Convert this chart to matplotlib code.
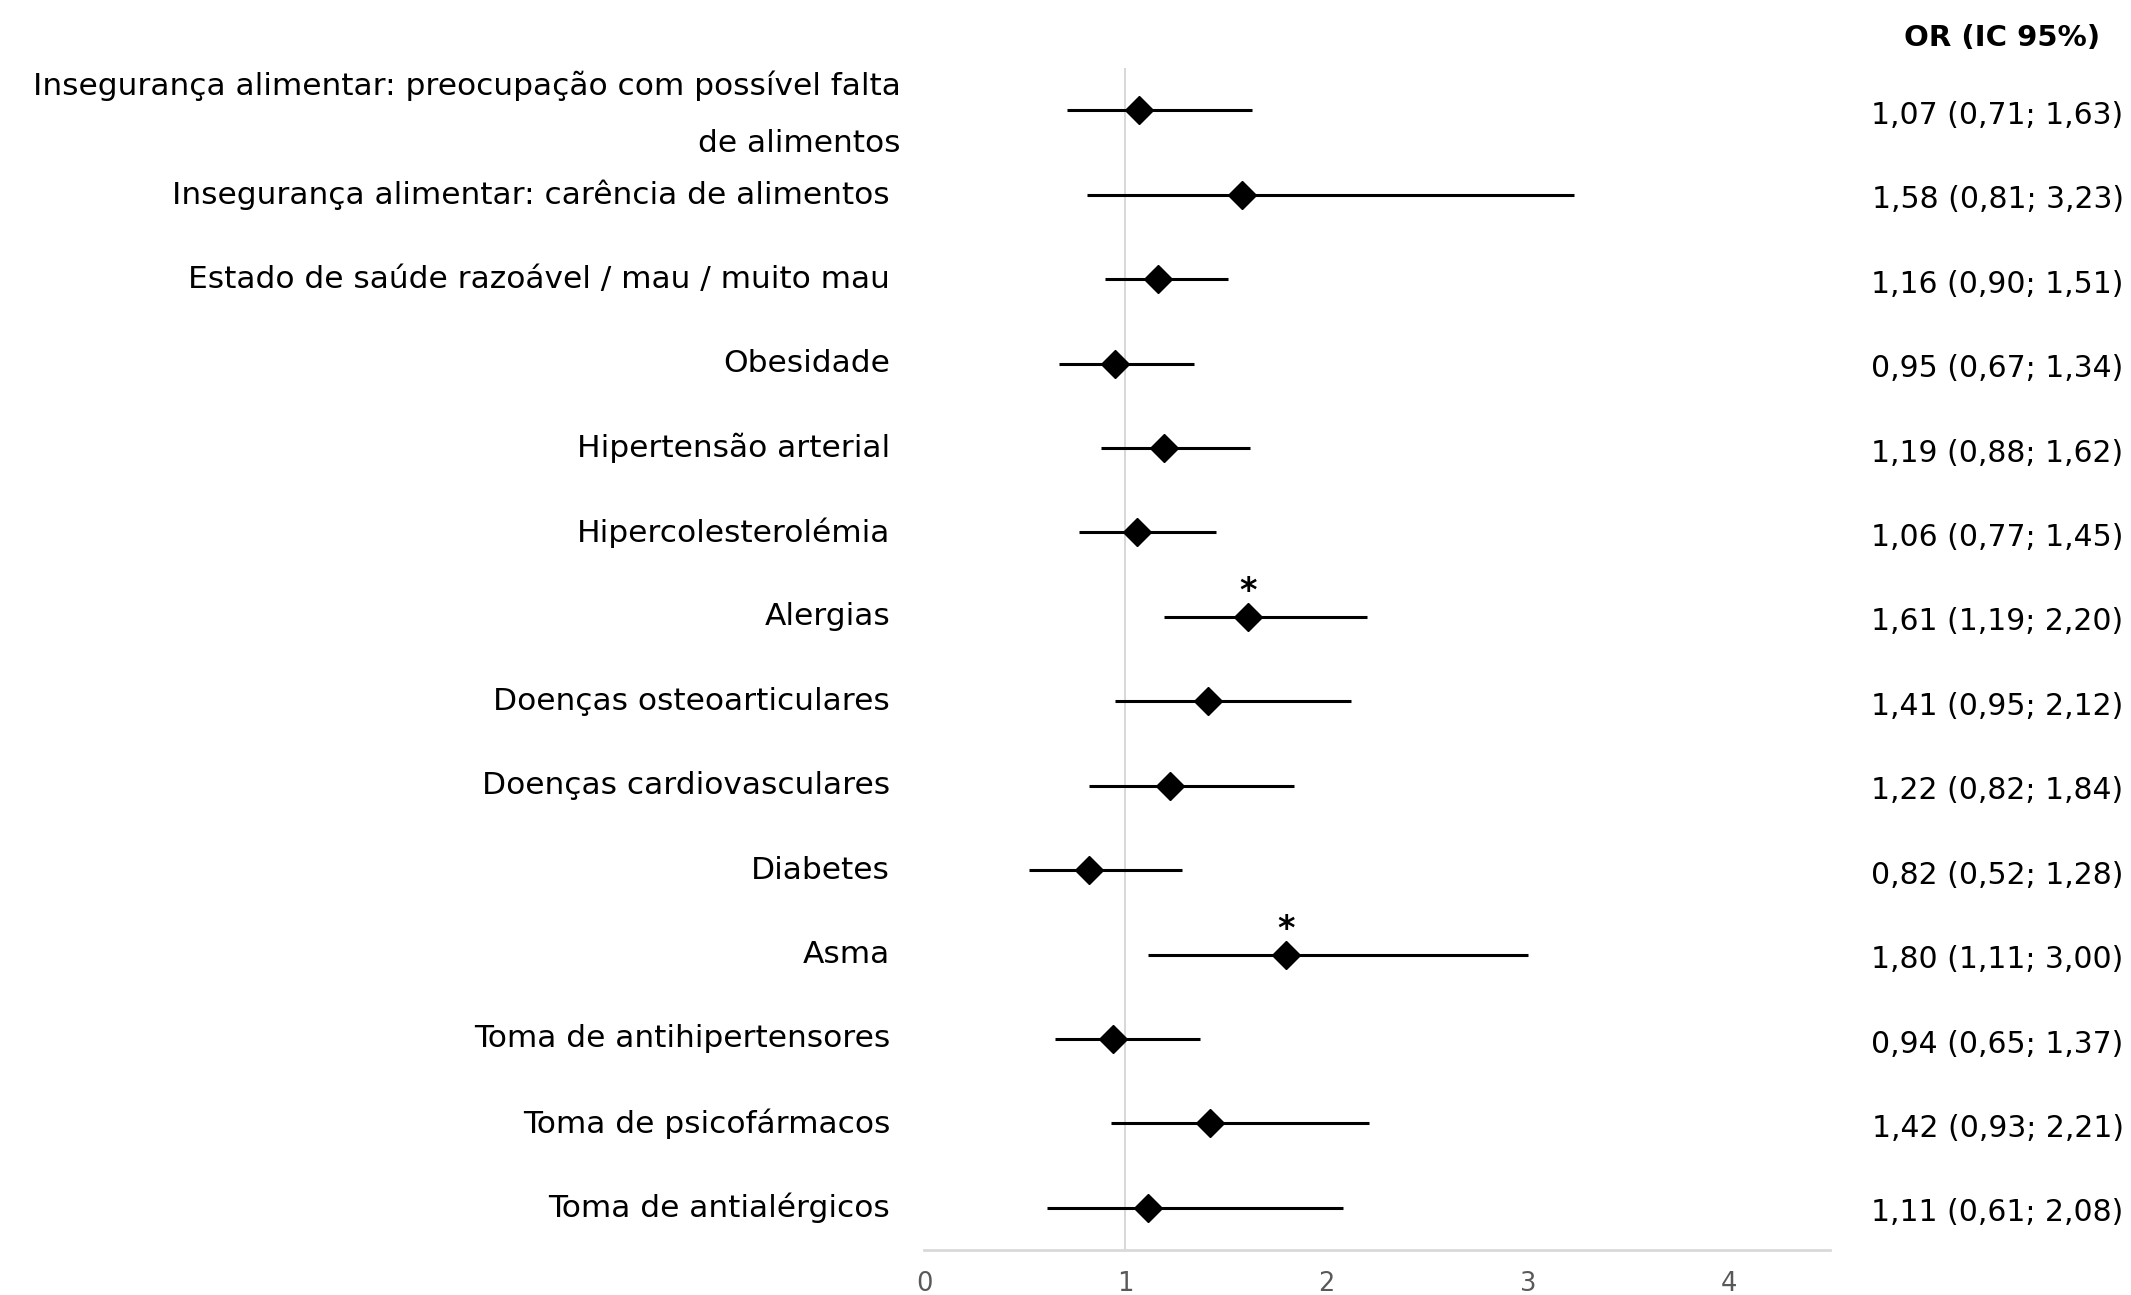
import matplotlib.pyplot as plt
import matplotlib.transforms as mtransforms

labels = [
    "Insegurança alimentar: preocupação com possível falta\nde alimentos",
    "Insegurança alimentar: carência de alimentos",
    "Estado de saúde razoável / mau / muito mau",
    "Obesidade",
    "Hipertensão arterial",
    "Hipercolesterolémia",
    "Alergias",
    "Doenças osteoarticulares",
    "Doenças cardiovasculares",
    "Diabetes",
    "Asma",
    "Toma de antihipertensores",
    "Toma de psicofármacos",
    "Toma de antialérgicos",
]
odds_ratio = [1.07, 1.58, 1.16, 0.95, 1.19, 1.06, 1.61, 1.41, 1.22, 0.82, 1.80, 0.94, 1.42, 1.11]
ci_low = [0.71, 0.81, 0.90, 0.67, 0.88, 0.77, 1.19, 0.95, 0.82, 0.52, 1.11, 0.65, 0.93, 0.61]
ci_high = [1.63, 3.23, 1.51, 1.34, 1.62, 1.45, 2.20, 2.12, 1.84, 1.28, 3.00, 1.37, 2.21, 2.08]
significant = [False, False, False, False, False, False, True, False, False, False, True, False, False, False]
x_ticks = [0, 1, 2, 3, 4]

def fmt(v):
    return f"{v:.2f}".replace(".", ",")

n = len(labels)
ypos = [n - i for i in range(n)]

fig = plt.figure(figsize=(21.31, 12.95), dpi=100)
ax = fig.add_axes([0.4336, 0.0347, 0.4252, 0.9128])
ax.set_xlim(0, 4.5)
ax.set_ylim(0.5, n + 0.5)

# reference line at OR = 1
ax.axvline(1, color="#d4d4d4", lw=1.3, zorder=1)

for y, orv, lo, hi, sig in zip(ypos, odds_ratio, ci_low, ci_high, significant):
    ax.plot([lo, hi], [y, y], color="black", lw=2.2, solid_capstyle="butt", zorder=2)
    ax.plot(orv, y, marker="D", ms=14.5, color="black", zorder=3)
    if sig:
        ax.text(orv, y + 0.3, "*", ha="center", va="center", fontsize=24,
                fontweight="bold", color="black")

for s in ["top", "right", "left"]:
    ax.spines[s].set_visible(False)
ax.spines["bottom"].set_color("#d9d9d9")
ax.spines["bottom"].set_linewidth(2)
ax.set_yticks([])
ax.set_xticks(x_ticks)
ax.tick_params(axis="x", length=0, pad=15, labelsize=18.5, labelcolor="#595959")
for t in ax.get_xticklabels():
    t.set_family(["Liberation Sans Narrow", "DejaVu Sans"])

trans = mtransforms.blended_transform_factory(fig.transFigure, ax.transData)

for i, (y, lab) in enumerate(zip(ypos, labels)):
    if "\n" in lab:
        first, second = lab.split("\n")
        ax.text(0.4228, y + 0.29, first, transform=trans, ha="right", va="center",
                fontsize=22.5, color="black")
        ax.text(0.4228, y - 0.40, second, transform=trans, ha="right", va="center",
                fontsize=22.5, color="black")
    else:
        ax.text(0.4177, y, lab, transform=trans, ha="right", va="center",
                fontsize=22.5, color="black")
    ci_text = f"{fmt(odds_ratio[i])} ({fmt(ci_low[i])}; {fmt(ci_high[i])})"
    ax.text(0.9965, y - 0.06, ci_text, transform=trans, ha="right", va="center",
            fontsize=21.5, color="black")

fig.text(0.9395, 1 - 38 / 1295, "OR (IC 95%)", ha="center", va="center",
         fontsize=21, fontweight="bold", color="black")

fig.savefig("out.png", dpi=100, facecolor="white")
